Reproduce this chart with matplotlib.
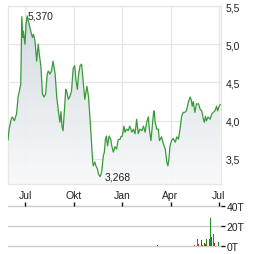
import numpy as np
import pandas as pd
import matplotlib
matplotlib.use('Agg')
import matplotlib.pyplot as plt
import matplotlib.dates as mdates
from matplotlib.colors import LinearSegmentedColormap
from matplotlib.patches import Polygon

base_date = '2023-07-01'
day_offsets = [-32, -30, -26, -24, -20, -16, -13, -9, -8, -6, -4, -3, 0, 2, 4, 8, 11, 14, 16, 19,
               22, 25, 27, 30, 33, 36, 39, 42, 44, 47, 50, 53, 57, 60, 63, 66, 68, 70, 72, 75,
               77, 79, 82, 85, 88, 91, 94, 96, 99, 101, 104, 107, 110, 113, 117, 120, 123, 126, 128, 129,
               132, 134, 137, 139, 142, 145, 148, 150, 152, 154, 156, 159, 162, 164, 167, 170, 173, 176, 180, 181,
               184, 187, 189, 192, 195, 198, 202, 205, 208, 211, 214, 217, 221, 224, 227, 230, 233, 235, 238, 240,
               243, 244, 246, 249, 252, 254, 256, 258, 261, 265, 268, 270, 272, 274, 277, 280, 284, 287, 290, 293,
               296, 299, 302, 305, 309, 312, 314, 316, 318, 321, 324, 328, 331, 334, 337, 339, 341, 343, 346, 350,
               353, 356, 359, 362, 364, 367, 369]
prices = [3.75, 3.89, 4.02, 4.05, 4.00, 4.09, 4.31, 4.45, 4.48, 5.36, 5.09, 5.17, 5.00, 5.26, 5.37, 5.26, 5.17, 5.09, 5.13, 5.04,
          4.78, 5.00, 4.87, 4.72, 4.35, 4.31, 4.35, 4.61, 4.65, 4.61, 4.65, 4.78, 4.61, 4.31, 4.13, 3.98, 4.12, 3.92, 3.87, 4.19,
          4.41, 4.38, 4.28, 4.32, 4.39, 4.68, 4.72, 4.55, 4.41, 4.59, 4.72, 4.74, 4.51, 4.28, 4.45, 4.32, 4.02, 3.67, 3.46, 3.41,
          3.46, 3.41, 3.37, 3.30, 3.268, 3.33, 3.54, 3.59, 3.76, 3.80, 3.67, 3.80, 3.76, 3.67, 3.59, 3.66, 3.63, 3.75, 3.76, 3.79,
          3.80, 3.93, 3.85, 3.89, 3.87, 3.93, 3.85, 3.89, 3.83, 4.02, 3.83, 3.89, 3.87, 3.93, 3.85, 3.98, 4.05, 3.89, 3.74, 3.89,
          4.11, 4.13, 3.98, 3.89, 3.89, 3.74, 3.76, 3.79, 3.71, 3.63, 3.46, 3.41, 3.50, 3.67, 3.74, 3.77, 3.72, 3.79, 3.76, 3.89,
          4.06, 4.11, 4.11, 4.13, 4.25, 4.31, 4.28, 4.19, 4.25, 4.11, 4.22, 4.22, 4.15, 4.13, 4.02, 3.98, 4.06, 4.00, 4.05, 4.02,
          4.09, 4.11, 4.13, 4.19, 4.13, 4.19, 4.21]

vol_days = [-20, 11, 17, 108, 151, 250, 270, 295, 306, 308, 312, 314, 320, 323, 326, 328, 333, 336, 339, 341,
            343, 346, 349, 350, 353, 356, 358, 361, 363, 366]
vol_values = [0.4, 0.4, 0.4, 0.4, 0.4, 0.8, 0.5, 4.0, 0.7, 0.6, 0.6, 1.0, 1.3, 1.2, 7.5, 2.0, 6.0, 1.3, 2.7, 2.0,
              7.5, 3.0, 7.0, 28.0, 8.6, 12.0, 3.5, 2.0, 17.0, 4.0]
vol_up = [1, 0, 0, 0, 1, 0, 1, 1, 0, 1, 1, 0, 0, 0, 1, 0, 0, 1, 0, 0,
          1, 0, 0, 1, 0, 1, 0, 1, 1, 1]

month_ticks = ['2023-07-01', '2023-10-01', '2024-01-01', '2024-04-01', '2024-07-01']
month_labels = ['Jul', 'Okt', 'Jan', 'Apr', 'Jul']
price_ticks = [3.5, 4.0, 4.5, 5.0, 5.5]
price_labels = ['3,5', '4,0', '4,5', '5,0', '5,5']
vol_ticks = [0, 20, 40]
vol_labels = ['0T', '20T', '40T']
max_label = '5,370'
min_label = '3,268'

plt.rcParams['font.family'] = ['Liberation Sans', 'DejaVu Sans']

W, H = 264, 255
fig = plt.figure(figsize=(W / 100, H / 100), dpi=100)

base = pd.Timestamp(base_date)
x = mdates.date2num(base + pd.to_timedelta(day_offsets, unit='D'))
y = np.array(prices)
xmin = mdates.date2num(base + pd.Timedelta(days=-32.1))
xmax = mdates.date2num(base + pd.Timedelta(days=370.4))
ymin, ymax = 3.173, 5.5

ax = fig.add_axes([8 / W, 1 - 185 / H, (221 - 8) / W, 178 / H])
ax.set_xlim(xmin, xmax)
ax.set_ylim(ymin, ymax)

grid_c = '#e6e6e6'
xt = mdates.date2num(pd.to_datetime(month_ticks))
ax.set_xticks(xt)
ax.set_xticklabels(month_labels)
ax.set_yticks(price_ticks)
ax.set_yticklabels(price_labels)
ax.yaxis.tick_right()
ax.tick_params(axis='x', length=0, pad=4.5, labelsize=7.5, colors='#222222')
ax.tick_params(axis='y', length=0, pad=3.5, labelsize=7.5, colors='#222222')
ax.grid(True, color=grid_c, lw=0.9, zorder=0)
ax.set_axisbelow(True)
for s in ax.spines.values():
    s.set_color(grid_c)
    s.set_linewidth(0.9)

# gradient fill under line
cmap = LinearSegmentedColormap.from_list('g', ['#f8f9fa', '#cdd6dd'])
grad = np.linspace(0, 1, 256).reshape(-1, 1)
im = ax.imshow(grad, extent=[xmin, xmax, ymin, ymax], origin='lower', aspect='auto',
               cmap=cmap, alpha=0.9, zorder=1)
verts = list(zip(x, y)) + [(x[-1], ymin), (x[0], ymin)]
poly = Polygon(verts, closed=True, facecolor='none', edgecolor='none')
ax.add_patch(poly)
im.set_clip_path(poly)

ax.plot(x, y, color='#3a9a3a', lw=0.9, zorder=3)

imax = int(np.argmax(y))
imin = int(np.argmin(y))
ax.annotate(max_label, xy=(x[imax], y[imax]), xytext=(0, 0), textcoords='offset points',
            ha='left', va='center', fontsize=7.5, color='#222222', zorder=4)
ax.annotate(min_label, xy=(x[imin], y[imin]), xytext=(3, 0.5), textcoords='offset points',
            ha='left', va='center', fontsize=7.5, color='#222222', zorder=4)

# volume panel
ax2 = fig.add_axes([8 / W, 1 - 247 / H, (221 - 8) / W, 40 / H])
ax2.set_xlim(xmin, xmax)
ax2.set_ylim(0, 40)
for v in vol_ticks:
    ax2.axhline(v, color='#cccccc', lw=1.0, clip_on=False, zorder=0)
vx = mdates.date2num(base + pd.to_timedelta(vol_days, unit='D'))
vcol = ['#1f8f1f' if u else '#b22a2a' for u in vol_up]
ax2.bar(vx, vol_values, width=1.3, color=vcol, zorder=2)
ax2.set_xticks(xt)
ax2.xaxis.tick_top()
ax2.tick_params(axis='x', length=3, width=1, color='#111111', labeltop=False, labelbottom=False, direction='out')
ax2.set_yticks(vol_ticks)
ax2.set_yticklabels(vol_labels)
ax2.yaxis.tick_right()
ax2.tick_params(axis='y', length=3, width=1, color='#111111', pad=1, labelsize=7.5, labelcolor='#222222')
for s in ax2.spines.values():
    s.set_visible(False)

fig.savefig('out.png', dpi=100)
